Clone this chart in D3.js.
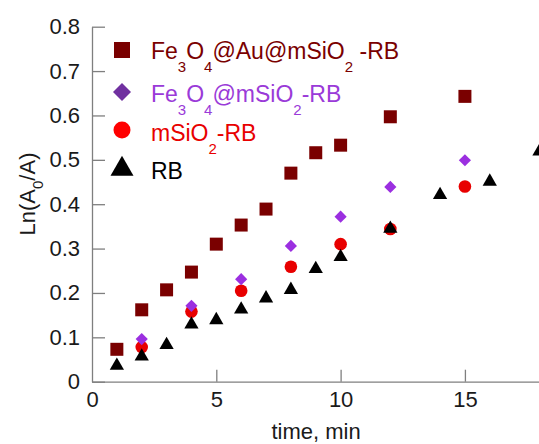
<!DOCTYPE html>
<html>
<head>
<meta charset="utf-8">
<script src="https://cdn.jsdelivr.net/npm/d3@7"></script>
<style>
  body { margin: 0; background: #fff; }
  text { font-family: "Liberation Sans", Arial, sans-serif; }
</style>
</head>
<body>
<div id="chart"></div>
<script>

// values
var auTime   = [1, 2, 3, 4, 5, 6, 7, 8, 9, 10, 12, 15];
var auVal    = [0.073, 0.162, 0.207, 0.247, 0.310, 0.353, 0.389, 0.470, 0.516, 0.533, 0.597, 0.643];

var feTime   = [2, 4, 6, 8, 10, 12, 15];
var feVal    = [0.096, 0.171, 0.231, 0.306, 0.372, 0.439, 0.499];

var siTime   = [2, 4, 6, 8, 10, 12, 15];
var siVal    = [0.078, 0.158, 0.205, 0.259, 0.310, 0.344, 0.440];

var rbTime   = [1, 2, 3, 4, 5, 6, 7, 8, 9, 10, 12, 14, 16, 18];
var rbVal    = [0.036, 0.057, 0.083, 0.129, 0.139, 0.163, 0.188, 0.207, 0.254, 0.281, 0.345, 0.421, 0.451, 0.519];

var xTicks = [0, 5, 10, 15];
var yTicks = [0, 0.1, 0.2, 0.3, 0.4, 0.5, 0.6, 0.7, 0.8];

var W = 539, H = 444;

var svg = d3.select("#chart")
    .append("svg")
      .attr("width", W)
      .attr("height", H);

var x = d3.scaleLinear().domain([0, 18]).range([92, 539.5]);
var y = d3.scaleLinear().domain([0, 0.8]).range([381.7, 26.7]);

// axes, ticks pointing inward
var xAxis = svg.append("g")
    .attr("transform", "translate(0," + y(0) + ")")
    .call(d3.axisBottom(x).tickValues(xTicks).tickSize(-12).tickSizeOuter(0).tickPadding(10).tickFormat(d3.format("d")));

var yAxis = svg.append("g")
    .attr("transform", "translate(" + x(0) + ",0)")
    .call(d3.axisLeft(y).tickValues(yTicks).tickSize(-13).tickSizeOuter(0).tickPadding(12)
          .tickFormat(function(d){ return d === 0 ? "0" : d3.format(".1f")(d); }));

[xAxis, yAxis].forEach(function(a) {
    a.selectAll("path, line").attr("stroke", "#7f7f7f").attr("stroke-width", 1.3);
    a.selectAll("text").attr("fill", "#1a1a1a").style("font-size", "22px")
        .style("font-family", '"Liberation Sans", Arial, sans-serif');
});
xAxis.selectAll(".tick").filter(function(d){ return d === 0; }).select("line").remove();

// axis titles
svg.append("text")
    .attr("x", 316)
    .attr("y", 439)
    .attr("text-anchor", "middle")
    .attr("fill", "#1a1a1a")
    .style("font-size", "22px")
    .text("time, min");

var yl = svg.append("text")
    .attr("transform", "translate(35,194) rotate(-90)")
    .attr("text-anchor", "middle")
    .attr("fill", "#1a1a1a")
    .style("font-size", "22px");
yl.append("tspan").text("Ln(A");
yl.append("tspan").attr("dy", 8).style("font-size", "15px").text("0");
yl.append("tspan").attr("dy", -8).text("/A)");

// series
var series = [
  {time: auTime, val: auVal, shape: d3.symbolSquare,   size: 169, rot: 0,  fill: "#7a0000"},
  {time: siTime, val: siVal, shape: d3.symbolCircle,   size: 125, rot: 0,  fill: "#e80000"},
  {time: rbTime, val: rbVal, shape: d3.symbolTriangle, size: 88,  rot: 0,  fill: "#000000"},
  {time: feTime, val: feVal, shape: d3.symbolSquare,   size: 74,  rot: 45, fill: "#9b2fe0"}
];

series.forEach(function(s) {
    svg.append("g")
      .selectAll("path")
      .data(s.time)
      .enter()
      .append("path")
        .attr("d", d3.symbol().type(s.shape).size(s.size))
        .attr("transform", function(d, i) {
            return "translate(" + x(d) + "," + y(s.val[i]) + ") rotate(" + s.rot + ")";
        })
        .attr("fill", s.fill);
});

// legend
var legend = [
  {shape: d3.symbolSquare,   size: 256, rot: 0,  fill: "#7a0000", color: "#7a0000", my: 50,
   parts: [["Fe",0],["3",1],["O",0],["4",1],["@Au@mSiO",0],["2",1],[" -RB",0]], ty: 59},
  {shape: d3.symbolSquare,   size: 162, rot: 45, fill: "#7030a0", color: "#9a3ad8", my: 92,
   parts: [["Fe",0],["3",1],["O",0],["4",1],["@mSiO",0],["2",1],["-RB",0]], ty: 101.5},
  {shape: d3.symbolCircle,   size: 227, rot: 0,  fill: "#ff0000", color: "#e80000", my: 130,
   parts: [["mSiO",0],["2",1],["-RB",0]], ty: 140.5},
  {shape: d3.symbolTriangle, size: 229, rot: 0,  fill: "#000000", color: "#000000", my: 169,
   parts: [["RB",0]], ty: 178.5}
];

legend.forEach(function(l) {
    svg.append("path")
        .attr("d", d3.symbol().type(l.shape).size(l.size))
        .attr("transform", "translate(122," + l.my + ") rotate(" + l.rot + ")")
        .attr("fill", l.fill);

    var t = svg.append("text")
        .attr("x", 151)
        .attr("y", l.ty)
        .attr("fill", l.color)
        .style("font-size", "23px");
    var prev = 0;
    l.parts.forEach(function(p) {
        var shift = p[1] ? 13 : 0;
        t.append("tspan")
            .attr("dy", shift - prev)
            .style("font-size", p[1] ? "15px" : "23px")
            .text(p[0]);
        prev = shift;
    });
});

</script>
</body>
</html>
